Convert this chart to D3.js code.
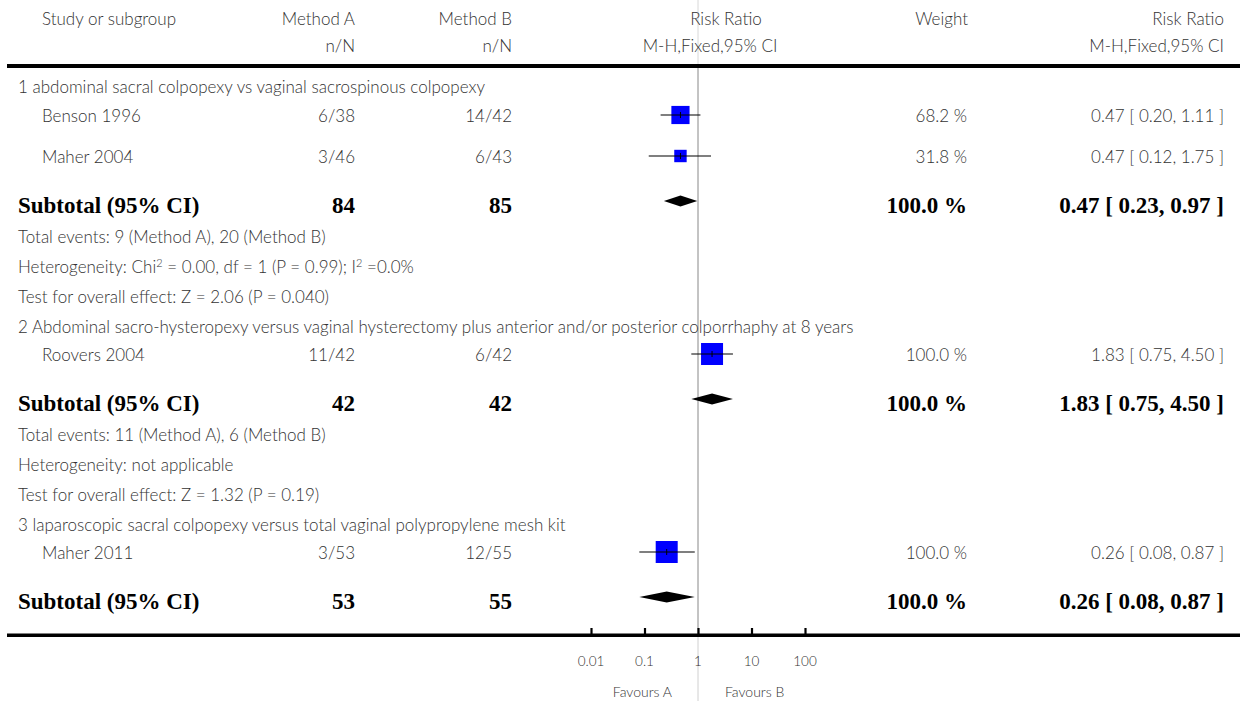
<!DOCTYPE html>
<html><head><meta charset="utf-8">
<script src="https://cdn.jsdelivr.net/npm/d3@7"></script>
<style>
html,body{margin:0;padding:0;background:#fff;}
svg{display:block;}
</style></head>
<body>
<svg id="chart" width="1245" height="701"></svg>
<script>
// ---------------- DATA ----------------
const groupTitles = [
  "1 abdominal sacral colpopexy vs vaginal sacrospinous colpopexy",
  "2 Abdominal sacro-hysteropexy versus vaginal hysterectomy plus anterior and/or posterior colporrhaphy at 8 years",
  "3 laparoscopic sacral colpopexy versus total vaginal polypropylene mesh kit"
];
const studies     = ["Benson 1996", "Maher 2004", "Roovers 2004", "Maher 2011"];
const studyGroup  = [0, 0, 1, 2];
const eventsA     = ["6/38", "3/46", "11/42", "3/53"];
const eventsB     = ["14/42", "6/43", "6/42", "12/55"];
const studyRR     = [0.47, 0.47, 1.83, 0.26];
const studyLo     = [0.20, 0.12, 0.75, 0.08];
const studyHi     = [1.11, 1.75, 4.50, 0.87];
const studyWeight = [68.2, 31.8, 100.0, 100.0];

const subTotalA = [84, 42, 53];
const subTotalB = [85, 42, 55];
const subRR     = [0.47, 1.83, 0.26];
const subLo     = [0.23, 0.75, 0.08];
const subHi     = [0.97, 4.50, 0.87];
const subWeight = [100.0, 100.0, 100.0];

const totalEvents = [
  "Total events: 9 (Method A), 20 (Method B)",
  "Total events: 11 (Method A), 6 (Method B)",
  null
];
const heterogeneity = [
  [["Heterogeneity: Chi", ""], ["2", "sup"], [" = 0.00, df = 1 (P = 0.99); I", ""], ["2", "sup"], [" =0.0%", ""]],
  [["Heterogeneity: not applicable", ""]],
  null
];
const overallEffect = [
  "Test for overall effect: Z = 2.06 (P = 0.040)",
  "Test for overall effect: Z = 1.32 (P = 0.19)",
  null
];

const axisTicks = [0.01, 0.1, 1, 10, 100];
const tickLabels = ["0.01", "0.1", "1", "10", "100"];
const favours = ["Favours A", "Favours B"];
const headers1 = ["Study or subgroup", "Method A", "Method B", "Risk Ratio", "Weight", "Risk Ratio"];
const headers2 = ["n/N", "n/N", "M-H,Fixed,95% CI", "M-H,Fixed,95% CI"];

// ---------------- LAYOUT ----------------
const svg = d3.select("#chart");
const SANS = "Lato, 'Open Sans', sans-serif";
const SERIF = "'Liberation Serif', 'DejaVu Serif', serif";
const TXT = "#333";
const FS = 17;
const BFS = 23;

const x = d3.scaleLog().domain([0.01, 100]).range([591, 805]);
const colA = 355, colB = 512, colW = 967, colRR = 1224, colName = 42, colLeft = 18;
const fmt2 = d3.format(".2f"), fmt1 = d3.format(".1f");

function text(t, xx, yy, opts = {}) {
  return svg.append("text").attr("x", xx).attr("y", yy)
    .attr("font-family", opts.serif ? SERIF : SANS)
    .attr("font-size", opts.size || FS)
    .attr("font-weight", opts.bold ? "bold" : 300)
    .attr("fill", opts.fill || TXT)
    .attr("text-anchor", opts.anchor || "start")
    .text(t);
}

// compute row positions
const rows = [];
let y = 87;
groupTitles.forEach((g, gi) => {
  rows.push({type: "group", gi, y});
  const idx = studies.map((s, i) => i).filter(i => studyGroup[i] === gi);
  y += idx.length > 1 ? 29 : 28;
  idx.forEach((i, k) => {
    rows.push({type: "study", i, y});
    if (k < idx.length - 1) y += 41;
  });
  y += 44;
  rows.push({type: "sub", gi, y});
  if (totalEvents[gi]) {
    y += 36; rows.push({type: "events", gi, y});
    y += 30; rows.push({type: "het", gi, y});
    y += 30; rows.push({type: "test", gi, y});
    y += 30;
  }
});

// null line (reference at RR = 1)
svg.append("line").attr("x1", x(1)).attr("x2", x(1)).attr("y1", 0).attr("y2", 66)
  .attr("stroke", "#d8d8d8").attr("stroke-width", 1);
svg.append("line").attr("x1", x(1)).attr("x2", x(1)).attr("y1", 66).attr("y2", 635)
  .attr("stroke", "#888").attr("stroke-width", 1);
svg.append("line").attr("x1", x(1)).attr("x2", x(1)).attr("y1", 635).attr("y2", 701)
  .attr("stroke", "#d0d0d0").attr("stroke-width", 1);

// headers
text(headers1[0], colName, 25);
text(headers1[1], colA, 25, {anchor: "end"});
text(headers1[2], colB, 25, {anchor: "end"});
text(headers1[3], 726, 25, {anchor: "middle"});
text(headers1[4], colW + 1, 25, {anchor: "end"});
text(headers1[5], colRR, 25, {anchor: "end"});
text(headers2[0], colA, 52, {anchor: "end"});
text(headers2[1], colB, 52, {anchor: "end"});
text(headers2[2], 710, 52, {anchor: "middle"});
text(headers2[3], colRR, 52, {anchor: "end"});

svg.append("rect").attr("x", 7).attr("y", 64).attr("width", 1233).attr("height", 4).attr("fill", "#000");

// rows
rows.forEach(r => {
  if (r.type === "group") {
    text(groupTitles[r.gi], colLeft, r.y + 6);
  } else if (r.type === "study") {
    const i = r.i;
    text(studies[i], colName, r.y + 6);
    text(eventsA[i], colA, r.y + 6, {anchor: "end"});
    text(eventsB[i], colB, r.y + 6, {anchor: "end"});
    text(fmt1(studyWeight[i]) + " %", colW, r.y + 6, {anchor: "end"});
    text(fmt2(studyRR[i]) + " [ " + fmt2(studyLo[i]) + ", " + fmt2(studyHi[i]) + " ]", colRR, r.y + 6, {anchor: "end"});
    const my = r.y - 1;
    const s = 22 * Math.sqrt(studyWeight[i] / 100);
    svg.append("rect").attr("x", x(studyRR[i]) - s / 2).attr("y", my - s / 2)
      .attr("width", s).attr("height", s).attr("fill", "#0000ff");
    svg.append("line").attr("x1", x(studyLo[i])).attr("x2", x(studyHi[i]))
      .attr("y1", my).attr("y2", my).attr("stroke", "#000").attr("stroke-width", 1.2);
    svg.append("line").attr("x1", x(studyRR[i])).attr("x2", x(studyRR[i]))
      .attr("y1", my - 3).attr("y2", my + 3).attr("stroke", "#000").attr("stroke-width", 1);
  } else if (r.type === "sub") {
    const g = r.gi;
    const o = {serif: true, bold: true, size: BFS, fill: "#000"};
    text("Subtotal (95% CI)", colLeft, r.y + 12, o);
    text(subTotalA[g], colA, r.y + 12, {...o, anchor: "end"});
    text(subTotalB[g], colB, r.y + 12, {...o, anchor: "end"});
    text(fmt1(subWeight[g]) + " %", colW, r.y + 12, {...o, anchor: "end"});
    text(fmt2(subRR[g]) + " [ " + fmt2(subLo[g]) + ", " + fmt2(subHi[g]) + " ]", colRR, r.y + 12, {...o, anchor: "end"});
    const dy = r.y, h = 5.5;
    svg.append("path")
      .attr("d", `M${x(subLo[g])},${dy} L${x(subRR[g])},${dy - h} L${x(subHi[g])},${dy} L${x(subRR[g])},${dy + h} Z`)
      .attr("fill", "#000");
  } else if (r.type === "events") {
    text(totalEvents[r.gi], colLeft, r.y + 6);
  } else if (r.type === "het") {
    const t = svg.append("text").attr("x", colLeft).attr("y", r.y + 6)
      .attr("font-family", SANS).attr("font-size", FS).attr("font-weight", 300).attr("fill", TXT);
    let prevSup = false;
    heterogeneity[r.gi].forEach(([s, k]) => {
      const ts = t.append("tspan").text(s);
      if (k === "sup") { ts.attr("font-size", 11).attr("dy", -6); prevSup = true; }
      else { ts.attr("dy", prevSup ? 6 : 0); prevSup = false; }
    });
  } else if (r.type === "test") {
    text(overallEffect[r.gi], colLeft, r.y + 6);
  }
});

// bottom rule + axis
svg.append("rect").attr("x", 7).attr("y", 633.5).attr("width", 1233).attr("height", 3.5).attr("fill", "#000");
const axis = d3.axisTop(x).tickValues(axisTicks).tickSize(6).tickFormat("");
const ag = svg.append("g").attr("transform", "translate(0,634)").call(axis);
ag.select(".domain").remove();
ag.selectAll(".tick line").attr("stroke", "#000").attr("stroke-width", 2.2);
axisTicks.forEach((v, i) => text(tickLabels[i], x(v), 666, {anchor: "middle", size: 13.5}));
text(favours[0], x(1) - 26, 697, {anchor: "end", size: 14});
text(favours[1], x(1) + 27, 697, {anchor: "start", size: 14});
</script>
</body></html>
